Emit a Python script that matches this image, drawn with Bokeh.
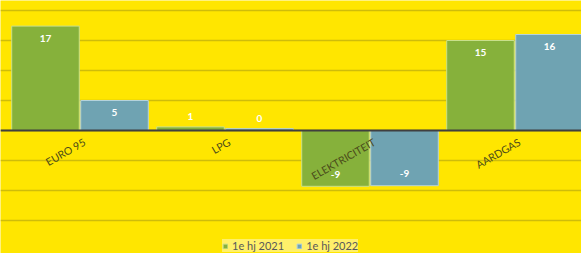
from bokeh.plotting import figure
from bokeh.models import ColumnDataSource, Span, FixedTicker, Legend, LegendItem
from bokeh.core.properties import value
from bokeh.embed import file_html
from bokeh.resources import INLINE

categories = ["EURO 95", "LPG", "ELEKTRICITEIT", "AARDGAS"]
series_names = ["1e hj 2021", "1e hj 2022"]
values_2021 = [17.4, 0.6, -9.3, 15.0]
values_2022 = [5.0, 0.3, -9.2, 16.0]
labels_2021 = ["17", "1", "-9", "15"]
labels_2022 = ["5", "0", "-9", "16"]
y_ticks = [-15, -10, -5, 0, 5, 10, 15, 20]

YELLOW = "#FFE600"
GREEN = "#86B13B"
BLUE = "#6FA3B2"
FONT = "Lato"

W, H = 581, 253
ZERO = 130
p = figure(width=W, height=H, output_backend="svg", toolbar_location=None,
           x_range=(-79.5 / 145, (W - 79.5) / 145),
           y_range=(-(H - ZERO) / 6, ZERO / 6),
           min_border=0, min_border_left=0, min_border_right=0,
           min_border_top=0, min_border_bottom=0)
p.background_fill_color = YELLOW
p.border_fill_color = YELLOW
p.outline_line_color = None
p.xaxis.visible = False
p.yaxis.visible = False
p.xgrid.visible = False
p.yaxis.ticker = FixedTicker(ticks=y_ticks)
p.ygrid.ticker = FixedTicker(ticks=y_ticks)
p.ygrid.grid_line_color = "#CFBC0A"
p.ygrid.grid_line_width = 1.5

xs = list(range(len(categories)))
off = 0.238
bw = 0.466

def lab_y(v):
    if v >= 3:
        return v - 2.0
    if v >= 0:
        return v + 1.7
    return v + 2.0

src1 = ColumnDataSource(dict(x=[x - off for x in xs], top=values_2021, lab=labels_2021,
                             ly=[lab_y(v) for v in values_2021]))
src2 = ColumnDataSource(dict(x=[x + off for x in xs], top=values_2022, lab=labels_2022,
                             ly=[lab_y(v) for v in values_2022]))

r1 = p.vbar(x="x", top="top", bottom=0, width=bw, source=src1, fill_color=GREEN,
            line_color="#C9E08A", line_width=1)
r2 = p.vbar(x="x", top="top", bottom=0, width=bw, source=src2, fill_color=BLUE,
            line_color="#B5D3DC", line_width=1)

for s in (src1, src2):
    p.text(x="x", y="ly", text="lab", source=s, text_color="white",
           text_font=value(FONT), text_font_size="10px", text_font_style="bold",
           text_align="center", text_baseline="middle")

p.add_layout(Span(location=0, dimension="width", line_color="#3F3F3F", line_width=2))

cat_src = ColumnDataSource(dict(x=[x + 0.01 for x in xs], y=[-0.9] * len(xs), t=categories))
p.text(x="x", y="y", text="t", source=cat_src, angle=0.52, text_color="#4A4A1A",
       text_font=value(FONT), text_font_size="10.5px",
       text_align="right", text_baseline="top")

legend = Legend(items=[LegendItem(label=series_names[0], renderers=[r1]),
                       LegendItem(label=series_names[1], renderers=[r2])],
                orientation="horizontal", location=(222, 1),
                background_fill_color="#FFF06A", background_fill_alpha=1,
                border_line_color=None, label_text_font=FONT,
                label_text_font_size="11px", label_text_color="#595959",
                glyph_width=6, glyph_height=6, label_standoff=4, spacing=12,
                padding=3, margin=0, label_height=11)
p.add_layout(legend)

open("out.html", "w").write(file_html(p, INLINE))
